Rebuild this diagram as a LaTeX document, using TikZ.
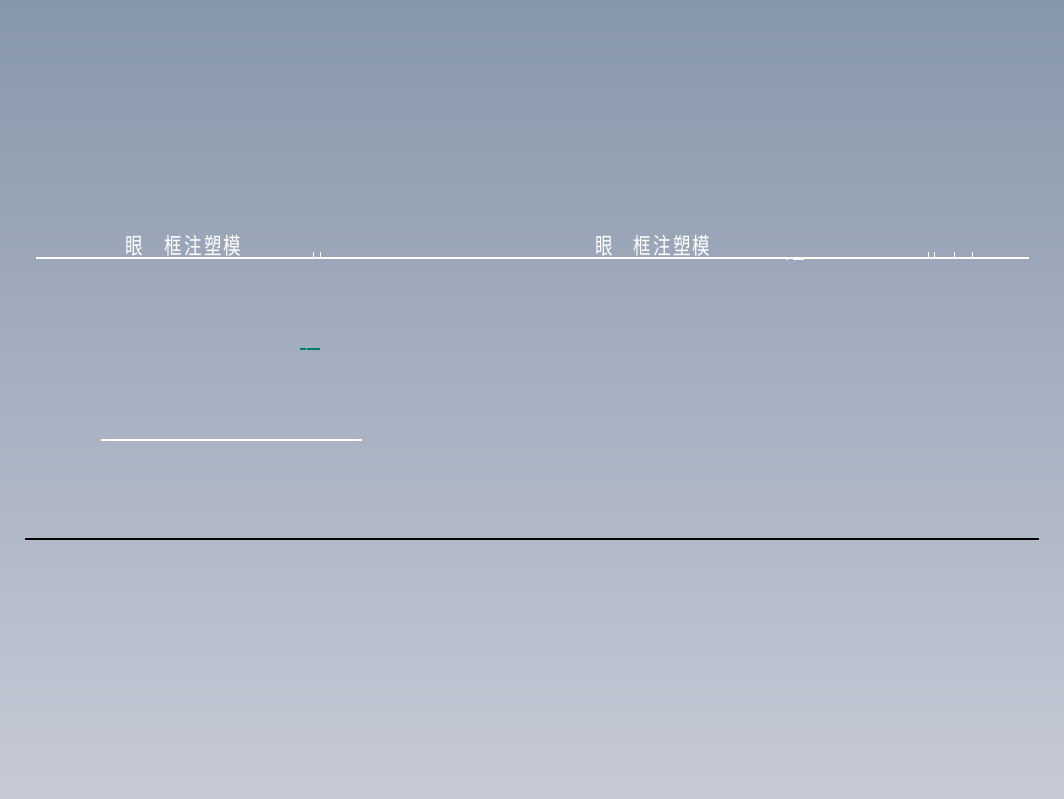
\documentclass[tikz,border=0pt]{standalone}
\usepackage{fontspec}
\newfontfamily\cjk[LetterSpace=12]{Noto Sans CJK SC}
\usepackage{tikz}
\usetikzlibrary{positioning}
\definecolor{bgtop}{RGB}{135,151,171}
\definecolor{bgbot}{RGB}{198,202,214}
\definecolor{cadgreen}{RGB}{0,128,104}
\tikzset{title/.style={text=white, font=\cjk\fontsize{12.5}{12.5}\selectfont, inner sep=0pt, anchor=south, yscale=1.3}}
\tikzset{wline/.style={draw=white, line width=0.8pt}}
\tikzset{tick/.style={draw=white, line width=0.6pt}}

\begin{document}
\begin{tikzpicture}[x=0.025cm, y=-0.025cm]

	\shade[top color=bgtop, bottom color=bgbot] (0,0) rectangle (1064,798);
	\useasboundingbox (0,0) rectangle (1064,798);

	% title blocks
	\node (eyeL) [title] at (134,257) {眼};
	\node (frameL) [title] at (203,257) {框注塑模};
	\node (eyeR) [title] at (604,257) {眼};
	\node (frameR) [title] at (672,257) {框注塑模};

	% lines
	\coordinate (topa) at (36,258);
	\coordinate (topb) at (1029,258);
	\draw [wline] (topa) -- (topb);

	\coordinate (mida) at (101,440);
	\coordinate (midb) at (362,440);
	\draw [wline] (mida) -- (midb);

	\coordinate (bota) at (25,539);
	\coordinate (botb) at (1039,539);
	\draw [line width=0.8pt, black] (bota) -- (botb);

	\coordinate (ga) at (300,349);
	\coordinate (gb) at (306,349);
	\coordinate (gc) at (307,349);
	\coordinate (gd) at (320,349);
	\draw [cadgreen, line width=0.8pt] (ga) -- (gb);
	\draw [cadgreen, line width=0.8pt] (gc) -- (gd);

	% small marks
	\foreach \x in {313,320,928,934,954,972}
		\draw [tick] (\x,252) -- (\x,257);
	\draw [tick] (786,259) -- (788,259);
	\draw [tick] (793,259) -- (804,259);

\end{tikzpicture}
\end{document}
